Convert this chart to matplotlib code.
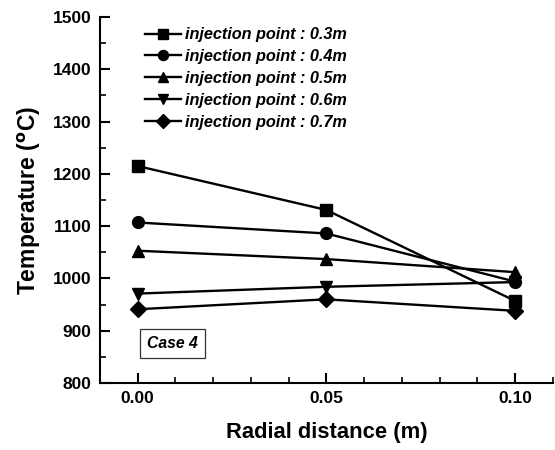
import matplotlib
matplotlib.use('Agg')
import matplotlib.pyplot as plt
from matplotlib.ticker import MultipleLocator

# Радиальное расстояние (м) и температура для каждой точки впрыска
radial = [0.00, 0.05, 0.10]
temp_03 = [1215, 1131, 957]
temp_04 = [1107, 1086, 994]
temp_05 = [1053, 1037, 1012]
temp_06 = [971, 984, 993]
temp_07 = [941, 960, 938]

labels = ['injection point : 0.3m', 'injection point : 0.4m', 'injection point : 0.5m',
          'injection point : 0.6m', 'injection point : 0.7m']
markers = ['s', 'o', '^', 'v', 'D']
sizes = [8, 8.5, 9, 9, 8]

plt.rcParams['font.family'] = ['Liberation Sans', 'DejaVu Sans']
plt.rcParams['font.weight'] = 'bold'

fig = plt.figure(figsize=(5.55, 4.5), dpi=100, facecolor='white')
ax = fig.add_axes([0.180, 0.149, 0.816, 0.813])

series = [temp_03, temp_04, temp_05, temp_06, temp_07]
for vals, lab, mk, ms in zip(series, labels, markers, sizes):
    ax.plot(radial, vals, color='black', linewidth=1.7, marker=mk,
            markersize=ms, label=lab)

ax.set_xlim(-0.01, 0.11)
ax.set_ylim(800, 1500)
ax.xaxis.set_minor_locator(MultipleLocator(0.01))
ax.yaxis.set_major_locator(MultipleLocator(100))
ax.yaxis.set_minor_locator(MultipleLocator(50))
ax.set_xticks([0.0, 0.05, 0.10])
ax.set_xticklabels(['0.00', '0.05', '0.10'])

ax.spines['top'].set_visible(False)
ax.spines['right'].set_visible(False)
for sp in ('left', 'bottom'):
    ax.spines[sp].set_linewidth(1.5)

ax.tick_params(which='major', direction='in', length=7, width=1.5, labelsize=12.5, pad=6)
ax.tick_params(which='minor', direction='in', length=4, width=1.2)
for t in ax.get_xticklabels() + ax.get_yticklabels():
    t.set_fontweight('bold')

ax.set_xlabel('Radial distance (m)', fontsize=15.8, fontweight='bold', labelpad=11)
ax.set_ylabel('Temperature ($^{\\mathrm{o}}$C)', fontsize=16.5, fontweight='bold', labelpad=7)

leg = ax.legend(loc='upper left', bbox_to_anchor=(0.067, 1.012), frameon=False,
                prop=dict(size=11.7, weight='bold', style='italic'),
                handlelength=2.2, handletextpad=0.3, labelspacing=0.42,
                markerscale=0.85)

ax.text(0.0025, 875, 'Case 4', fontsize=11.3, fontweight='bold', style='italic',
        ha='left', va='center',
        bbox=dict(boxstyle='square,pad=0.45', facecolor='white', edgecolor='#333333', linewidth=0.9))

plt.savefig('out.png', dpi=100, facecolor='white')
